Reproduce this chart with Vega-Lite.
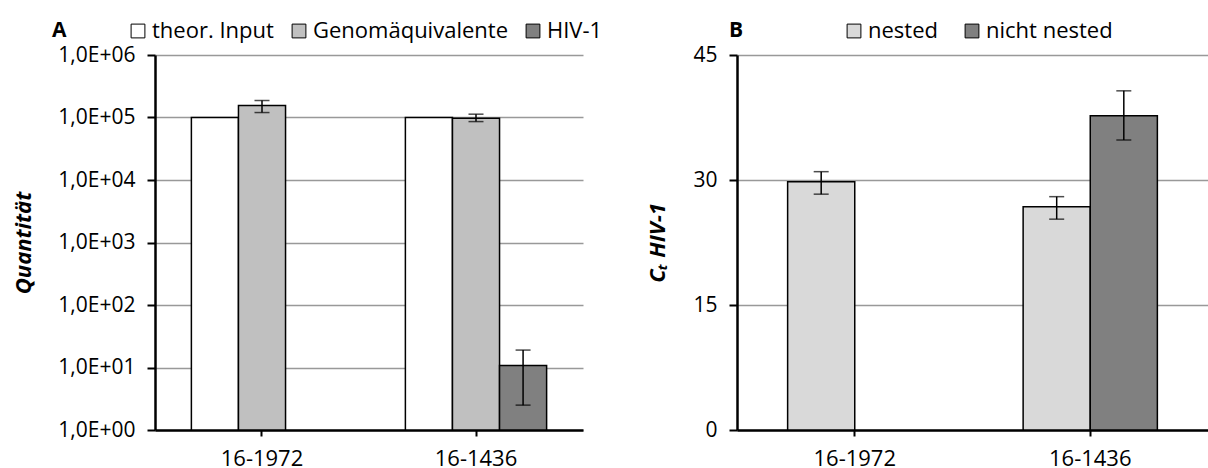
{
  "$schema": "https://vega.github.io/schema/vega-lite/v6.json",
  "padding": {"left": 12, "top": 20, "right": 0, "bottom": 0},
  "spacing": 43,
  "resolve": {
    "scale": {"x": "independent", "y": "independent", "xOffset": "independent", "fill": "independent"},
    "legend": {"fill": "independent"}
  },
  "config": {
    "font": "Open Sans",
    "view": {"stroke": null},
    "axis": {"labelColor": "black", "labelFont": "Open Sans", "titleColor": "black", "domainColor": "black", "tickColor": "black"},
    "legend": {"labelColor": "black", "titleColor": "black"}
  },
  "hconcat": [
    {
      "width": 428,
      "height": 375,
      "data": {"values": [
        {"sample": "16-1972", "series": "theor. Input", "value": 100000},
        {"sample": "16-1972", "series": "Genomäquivalente", "value": 155000, "lo": 120000, "hi": 187000},
        {"sample": "16-1436", "series": "theor. Input", "value": 100000},
        {"sample": "16-1436", "series": "Genomäquivalente", "value": 97000, "lo": 86000, "hi": 113000},
        {"sample": "16-1436", "series": "HIV-1", "value": 10.8, "lo": 2.5, "hi": 19}
      ]},
      "encoding": {
        "x": {"field": "sample", "type": "nominal", "sort": ["16-1972", "16-1436"],
          "scale": {"paddingInner": 0.34, "paddingOuter": 0.17},
          "axis": {"title": null, "labelAngle": 0, "labelFontSize": 22, "labelPadding": 12, "domainWidth": 2.5, "tickWidth": 2, "tickSize": 6, "grid": false}},
        "xOffset": {"field": "series", "type": "nominal", "scale": {"domain": ["theor. Input", "Genomäquivalente", "HIV-1"], "paddingInner": 0, "paddingOuter": 0}}
      },
      "layer": [
        {
          "mark": {"type": "bar", "stroke": "black", "strokeWidth": 1.5},
          "encoding": {
            "y": {"field": "value", "type": "quantitative",
              "scale": {"type": "log", "domain": [1, 1000000]},
              "axis": {"title": "Quantität", "titleFontSize": 22, "titleFontWeight": "bold", "titleFontStyle": "italic", "titlePadding": 22,
                "values": [1, 10, 100, 1000, 10000, 100000, 1000000],
                "labelExpr": "'1,0E+0' + round(log(datum.value)/LN10)",
                "labelFontSize": 21, "labelPadding": 12, "domainWidth": 2.5, "tickWidth": 2, "tickSize": 8,
                "grid": true, "gridColor": "#999999", "gridWidth": 1.5}},
            "y2": {"datum": 1},
            "fill": {"field": "series", "type": "nominal",
              "scale": {"domain": ["theor. Input", "Genomäquivalente", "HIV-1"], "range": ["#ffffff", "#c0c0c0", "#808080"]},
              "legend": {"orient": "none", "legendX": -103, "legendY": -35, "direction": "horizontal",
                "title": "A", "titleOrient": "left", "titleFontSize": 21, "titleFontWeight": "bold", "titlePadding": 60,
                "symbolType": "square", "symbolSize": 190, "symbolStrokeColor": "black", "symbolStrokeWidth": 1,
                "labelFontSize": 22, "labelOffset": 3, "columnPadding": 14, "labelLimit": 300}}
          }
        },
        {
          "mark": {"type": "rule", "color": "black", "strokeWidth": 1.5},
          "encoding": {"y": {"field": "lo", "type": "quantitative"}, "y2": {"field": "hi"}}
        },
        {
          "mark": {"type": "tick", "color": "black", "thickness": 1.5, "size": 15},
          "encoding": {"y": {"field": "lo", "type": "quantitative"}}
        },
        {
          "mark": {"type": "tick", "color": "black", "thickness": 1.5, "size": 15},
          "encoding": {"y": {"field": "hi", "type": "quantitative"}}
        }
      ]
    },
    {
      "width": 471,
      "height": 375,
      "data": {"values": [
        {"sample": "16-1972", "series": "nested", "value": 29.8, "lo": 28.3, "hi": 31.0},
        {"sample": "16-1436", "series": "nested", "value": 26.8, "lo": 25.3, "hi": 28.0},
        {"sample": "16-1436", "series": "nicht nested", "value": 37.7, "lo": 34.8, "hi": 40.7}
      ]},
      "encoding": {
        "x": {"field": "sample", "type": "nominal", "sort": ["16-1972", "16-1436"],
          "scale": {"paddingInner": 0.43, "paddingOuter": 0.215},
          "axis": {"title": null, "labelAngle": 0, "labelFontSize": 22, "labelPadding": 12, "domainWidth": 2.5, "tickWidth": 2, "tickSize": 6, "grid": false}},
        "xOffset": {"field": "series", "type": "nominal", "scale": {"domain": ["nested", "nicht nested"], "paddingInner": 0, "paddingOuter": 0}}
      },
      "layer": [
        {
          "mark": {"type": "bar", "stroke": "black", "strokeWidth": 1.5},
          "encoding": {
            "y": {"field": "value", "type": "quantitative",
              "scale": {"domain": [0, 45]},
              "axis": {"title": "Cₜ HIV-1", "titleFontSize": 22, "titleFontWeight": "bold", "titleFontStyle": "italic", "titlePadding": 23,
                "values": [0, 15, 30, 45],
                "labelFontSize": 21, "labelPadding": 12, "domainWidth": 2.5, "tickWidth": 2, "tickSize": 8,
                "grid": true, "gridColor": "#999999", "gridWidth": 1.5}},
            "fill": {"field": "series", "type": "nominal",
              "scale": {"domain": ["nested", "nicht nested"], "range": ["#d9d9d9", "#808080"]},
              "legend": {"orient": "none", "legendX": -8, "legendY": -35, "direction": "horizontal",
                "title": "B", "titleOrient": "left", "titleFontSize": 21, "titleFontWeight": "bold", "titlePadding": 99,
                "symbolType": "square", "symbolSize": 190, "symbolStrokeColor": "black", "symbolStrokeWidth": 1,
                "labelFontSize": 22, "labelOffset": 3, "columnPadding": 23, "labelLimit": 300}}
          }
        },
        {
          "mark": {"type": "rule", "color": "black", "strokeWidth": 1.5},
          "encoding": {"y": {"field": "lo", "type": "quantitative"}, "y2": {"field": "hi"}}
        },
        {
          "mark": {"type": "tick", "color": "black", "thickness": 1.5, "size": 15},
          "encoding": {"y": {"field": "lo", "type": "quantitative"}}
        },
        {
          "mark": {"type": "tick", "color": "black", "thickness": 1.5, "size": 15},
          "encoding": {"y": {"field": "hi", "type": "quantitative"}}
        }
      ]
    }
  ]
}
